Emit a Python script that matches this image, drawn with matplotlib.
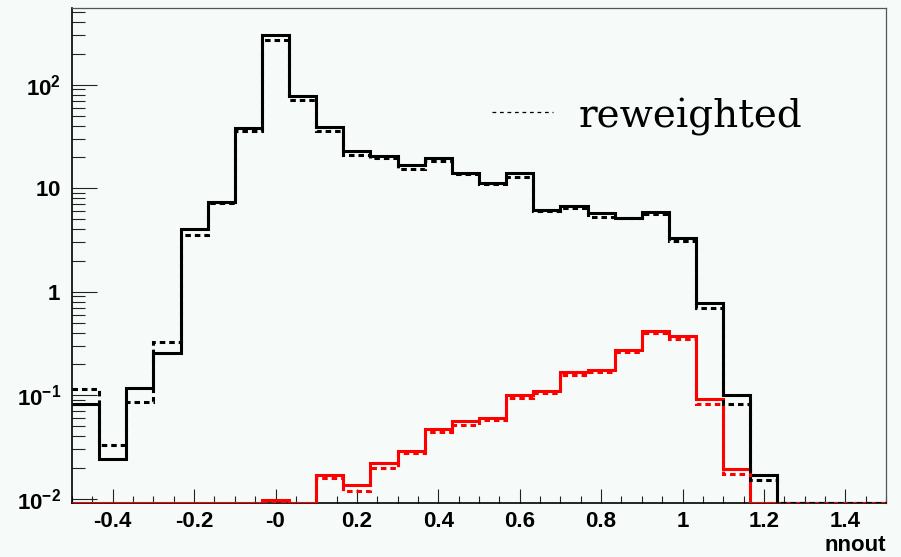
import numpy as np
import matplotlib
matplotlib.use("Agg")
import matplotlib.pyplot as plt
from matplotlib.ticker import FixedLocator, LogLocator, NullFormatter, MultipleLocator

# ---------------- data ----------------
edges = np.linspace(-0.5, 1.5, 31)

black_solid = [0.082, 0.024, 0.117, 0.257, 4.0, 7.3, 38, 299, 78, 39,
               22.8, 20.4, 16.7, 19.6, 14.0, 11.2, 14.0, 6.1, 6.8, 5.7,
               5.2, 5.85, 3.27, 0.78, 0.10, 0.017, 0, 0, 0, 0]
black_dotted = [0.115, 0.033, 0.086, 0.33, 3.5, 7.2, 35.7, 273, 71.5, 35.5,
                21, 19.5, 15.2, 18.3, 13.7, 11.0, 12.7, 6.0, 6.5, 5.25,
                5.1, 5.6, 3.1, 0.69, 0.083, 0.0153, 0, 0, 0, 0]
red_solid = [0, 0, 0, 0, 0, 0, 0, 0.0097, 0, 0.017,
             0.0137, 0.0224, 0.029, 0.047, 0.057, 0.060, 0.100, 0.109, 0.167, 0.175,
             0.273, 0.418, 0.374, 0.093, 0.0195, 0, 0, 0, 0, 0]
red_dotted = [0, 0, 0, 0, 0, 0, 0, 0.0092, 0, 0.016,
              0.012, 0.020, 0.0274, 0.044, 0.052, 0.058, 0.094, 0.105, 0.156, 0.168,
              0.262, 0.40, 0.35, 0.083, 0.0175, 0, 0, 0, 0, 0]

x_ticks = [-0.4, -0.2, 0.0, 0.2, 0.4, 0.6, 0.8, 1.0, 1.2, 1.4]
x_tick_labels = ["-0.4", "-0.2", "-0", "0.2", "0.4", "0.6", "0.8", "1", "1.2", "1.4"]
y_ticks = [0.01, 0.1, 1, 10, 100]
y_tick_labels = [r"$\mathbf{10^{-2}}$", r"$\mathbf{10^{-1}}$", r"$\mathbf{1}$",
                 r"$\mathbf{10}$", r"$\mathbf{10^{2}}$"]
legend_label = "reweighted"
x_label = "nnout"

YMIN, YMAX = 0.0091, 551.0

# ---------------- style ----------------
plt.rcParams["mathtext.fontset"] = "custom"
plt.rcParams["mathtext.bf"] = "Liberation Sans:bold"
plt.rcParams["mathtext.rm"] = "Liberation Sans:bold"
plt.rcParams["mathtext.it"] = "Liberation Sans:bold"
plt.rcParams["font.family"] = ["Liberation Sans", "DejaVu Sans"]

bg = "#f6faf8"
fig = plt.figure(figsize=(9.01, 5.57), dpi=100, facecolor=bg)
ax = fig.add_axes([72 / 901, 1 - 503 / 557, (886 - 72) / 901, (503 - 8) / 557])
ax.set_facecolor(bg)

def clip(v):
    v = np.asarray(v, dtype=float)
    return np.where(v > 0, v, YMIN)

lw = 2.2
dash = (0, (1.8, 1.3))
ax.stairs(clip(black_solid), edges, baseline=None, color="black", lw=lw, zorder=3)
ax.stairs(clip(red_solid), edges, baseline=None, color="#ff0000", lw=lw, zorder=4)
ax.stairs(clip(red_dotted), edges, baseline=None, color="#ff0000", lw=lw,
          linestyle=dash, zorder=5)
ax.stairs(clip(black_dotted), edges, baseline=None, color="black", lw=lw,
          linestyle=dash, zorder=6)

ax.set_yscale("log")
ax.set_xlim(-0.5, 1.5)
ax.set_ylim(YMIN, YMAX)

ax.xaxis.set_major_locator(FixedLocator(x_ticks))
ax.set_xticklabels(x_tick_labels, fontsize=16, fontweight="bold")
ax.xaxis.set_minor_locator(MultipleLocator(0.05))
ax.yaxis.set_major_locator(FixedLocator(y_ticks))
ax.set_yticklabels(y_tick_labels, fontsize=16)
ax.yaxis.set_minor_locator(LogLocator(base=10, subs=np.arange(2, 10)))
ax.yaxis.set_minor_formatter(NullFormatter())

ax.tick_params(axis="x", which="major", direction="in", length=10, width=0.8,
               color="#222222", pad=6, top=False)
ax.tick_params(axis="x", which="minor", direction="in", length=5, width=0.8,
               color="#222222", top=False)
ax.tick_params(axis="y", which="major", direction="in", length=18, width=0.8,
               color="#222222", pad=8, right=False)
ax.tick_params(axis="y", which="minor", direction="in", length=9, width=0.8,
               color="#222222", right=False)

for side in ("left", "bottom"):
    ax.spines[side].set_color("black")
    ax.spines[side].set_linewidth(1.2)
for side in ("top", "right"):
    ax.spines[side].set_color("#555555")
    ax.spines[side].set_linewidth(0.9)

ax.set_xlabel(x_label, fontsize=16, fontweight="bold", loc="right", labelpad=2)

# legend entry (drawn manually to mimic ROOT legend)
ax.plot([0.516, 0.591], [0.790, 0.790], transform=ax.transAxes, color="black",
        lw=0.9, linestyle=(0, (3, 3)), zorder=7)
ax.text(0.622, 0.779, legend_label, transform=ax.transAxes, fontsize=28,
        family="DejaVu Serif", va="center", ha="left", zorder=7)

fig.savefig("out.png", dpi=100, facecolor=bg)
